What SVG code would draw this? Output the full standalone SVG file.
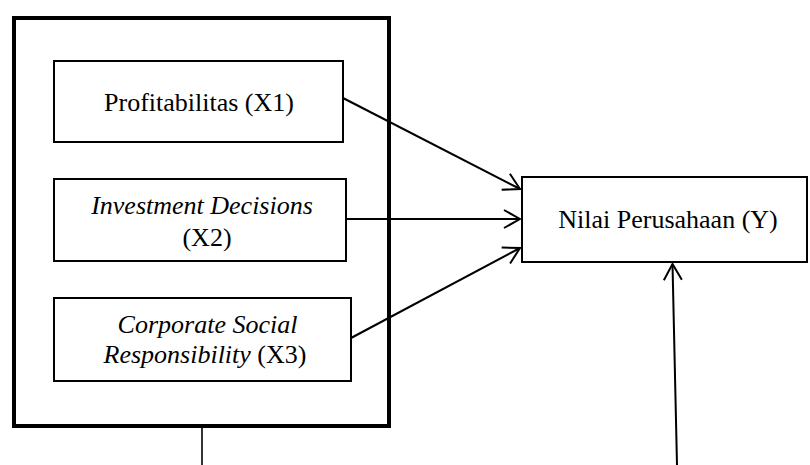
<svg xmlns="http://www.w3.org/2000/svg" width="810" height="465" viewBox="0 0 810 465">
<style>
.box{fill:#fff;stroke:#000;stroke-width:2}
.outer{fill:none;stroke:#000;stroke-width:4}
.t{font-family:"Liberation Serif","Times New Roman",serif;font-size:26px;fill:#000;text-anchor:middle}
.i{font-style:italic}
.c{fill:none;stroke:#000;stroke-width:2}
</style>
<defs>
<marker id="arr" viewBox="0 0 18 20" refX="17" refY="10" markerWidth="18" markerHeight="20" markerUnits="userSpaceOnUse" orient="auto">
<path d="M1,1 L17,10 L1,19" fill="none" stroke="#000" stroke-width="2"/>
</marker>
</defs>
<rect width="810" height="465" fill="#fff"/>
<g id="group-x">
<rect class="outer" x="14" y="18" width="375" height="408"/>
</g>
<g id="x1">
<rect class="box" x="54" y="61" width="289" height="81"/>
<text class="t" x="199" y="111">Profitabilitas (X1)</text>
</g>
<g id="x2">
<rect class="box" x="54" y="179" width="292" height="82"/>
<text class="t" x="202" y="213.5"><tspan class="i">Investment Decisions</tspan></text>
<text class="t" x="207" y="245.5">(X2)</text>
</g>
<g id="x3">
<rect class="box" x="54" y="298" width="297" height="83"/>
<text class="t i" x="207.5" y="333">Corporate Social</text>
<text class="t" x="205" y="363"><tspan class="i">Responsibility</tspan> (X3)</text>
</g>
<g id="y">
<rect class="box" x="522" y="177" width="285" height="85"/>
<text class="t" x="668" y="228">Nilai Perusahaan (Y)</text>
</g>
<g id="connectors">
<line class="c" x1="343" y1="98" x2="520" y2="189" marker-end="url(#arr)"/>
<line class="c" x1="346" y1="219" x2="520" y2="219" marker-end="url(#arr)"/>
<line class="c" x1="351" y1="338" x2="520" y2="248" marker-end="url(#arr)"/>
<line class="c" x1="677" y1="465" x2="672.5" y2="264" marker-end="url(#arr)"/>
<line x1="202" y1="427" x2="202" y2="465" stroke="#000" stroke-width="1.6"/>
</g>
</svg>
